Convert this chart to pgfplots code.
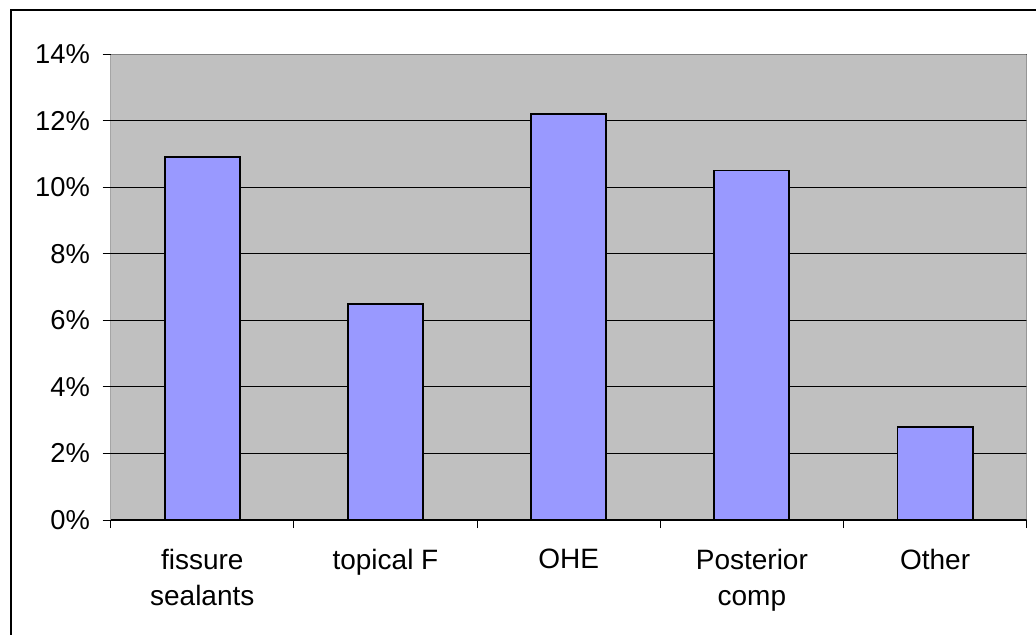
\documentclass[border=0pt]{standalone}
\usepackage{pgfplots}
\pgfplotsset{compat=1.18}
\usepackage{fontspec}
\setmainfont{Liberation Sans}
\definecolor{plotbg}{HTML}{C0C0C0}
\definecolor{barfill}{HTML}{9999FF}
\definecolor{bordergray}{HTML}{808080}
\begin{document}
\begin{tikzpicture}
\useasboundingbox (0,0) rectangle (777pt,-476.25pt);
\begin{scope}
\clip (0,0) rectangle (777pt,-476.25pt);
\draw[line width=0.8pt] (8.25pt,-7.5pt) rectangle (800pt,-520pt);
\end{scope}
\begin{axis}[
  at={(83pt,-40.5pt)}, anchor=north west,
  scale only axis, width=687pt, height=349.5pt,
  xmin=0.5, xmax=5.5, ymin=0, ymax=14,
  axis background/.style={fill=plotbg},
  axis line style={draw=none},
  tick align=outside,
  xtick pos=bottom, ytick pos=left,
  major tick length=6pt,
  tick style={black, line width=0.7pt},
  ytick={0,2,4,6,8,10,12,14},
  yticklabels={0\%,2\%,4\%,6\%,8\%,10\%,12\%,14\%},
  ymajorgrids, grid style={black, line width=0.7pt},
  xtick={0.5,1.5,2.5,3.5,4.5,5.5},
  xticklabels={},
  extra x ticks={1,2,3,4,5},
  extra x tick labels={fissure\\sealants, topical F, OHE, Posterior\\comp, Other},
  extra x tick style={major tick length=0pt, grid=none,
    xticklabel style={align=center, anchor=north, yshift=-18pt, font=\fontsize{21}{27}\selectfont}},
  yticklabel style={font=\fontsize{20.5}{24}\selectfont, xshift=-6pt},
  /pgf/number format/assume math mode=true,
]
\addplot[ybar, bar width=0.41, fill=barfill, draw=black, line width=1.4pt]
  coordinates {(1,10.9) (2,6.5) (3,12.2) (4,10.5) (5,2.8)};
\draw[bordergray, line width=0.8pt] (rel axis cs:0,1) -- (rel axis cs:1,1) -- (rel axis cs:1,0);
\draw[black, line width=0.8pt] (rel axis cs:0,1) -- (rel axis cs:0,0) -- (rel axis cs:1,0);
\end{axis}
\end{tikzpicture}
\end{document}
